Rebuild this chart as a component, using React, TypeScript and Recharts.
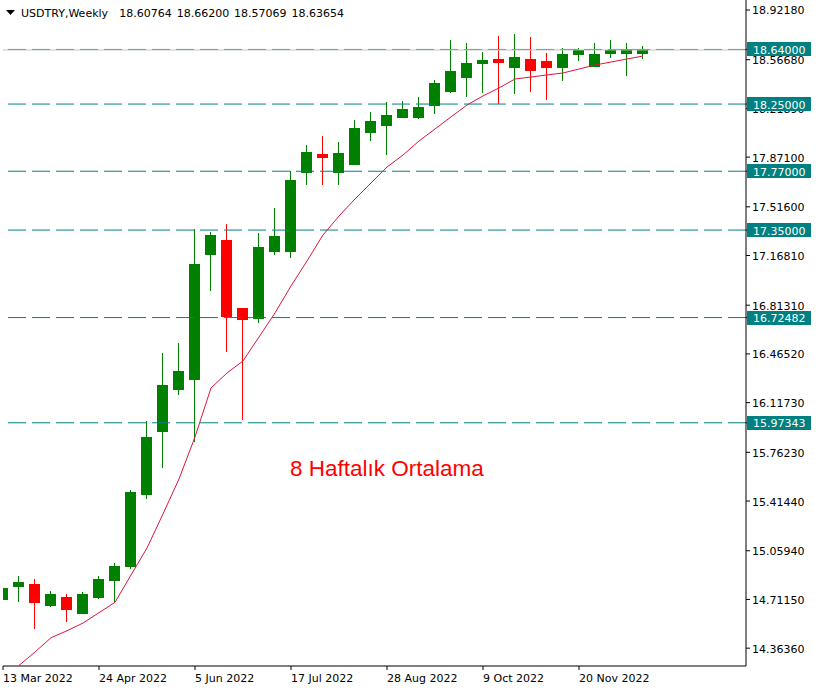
import React from "react";
import { ComposedChart, Bar, Line, XAxis, YAxis, ReferenceLine } from "recharts";

// weekly candles, USDTRY
const weeks = [
  "13 Mar 2022", "20 Mar 2022", "27 Mar 2022", "3 Apr 2022", "10 Apr 2022", "17 Apr 2022",
  "24 Apr 2022", "1 May 2022", "8 May 2022", "15 May 2022", "22 May 2022", "29 May 2022",
  "5 Jun 2022", "12 Jun 2022", "19 Jun 2022", "26 Jun 2022", "3 Jul 2022", "10 Jul 2022",
  "17 Jul 2022", "24 Jul 2022", "31 Jul 2022", "7 Aug 2022", "14 Aug 2022", "21 Aug 2022",
  "28 Aug 2022", "4 Sep 2022", "11 Sep 2022", "18 Sep 2022", "25 Sep 2022", "2 Oct 2022",
  "9 Oct 2022", "16 Oct 2022", "23 Oct 2022", "30 Oct 2022", "6 Nov 2022", "13 Nov 2022",
  "20 Nov 2022", "27 Nov 2022", "4 Dec 2022", "11 Dec 2022", "18 Dec 2022",
];

const opens = [
  14.708, 14.802, 14.822, 14.667, 14.729, 14.610, 14.722, 14.845, 14.945, 15.460,
  15.910, 16.210, 16.279, 17.172, 17.279, 16.793, 16.717, 17.193, 17.195, 17.760,
  17.893, 17.760, 17.817, 18.045, 18.095, 18.152, 18.150, 18.236, 18.336, 18.436,
  18.536, 18.572, 18.508, 18.572, 18.558, 18.508, 18.600, 18.515, 18.608, 18.608,
  18.60764,
];
const highs = [
  14.900, 14.879, 14.860, 14.772, 14.750, 14.762, 14.879, 14.972, 15.493, 15.986,
  16.472, 16.543, 17.355, 17.336, 17.393, 16.795, 17.329, 17.508, 17.772, 17.957,
  18.022, 17.979, 18.136, 18.193, 18.265, 18.272, 18.300, 18.422, 18.708, 18.686,
  18.622, 18.736, 18.751, 18.729, 18.615, 18.651, 18.651, 18.686, 18.708, 18.686,
  18.662,
];
const lows = [
  14.350, 14.693, 14.503, 14.660, 14.552, 14.607, 14.717, 14.693, 14.927, 15.431,
  15.648, 16.174, 15.838, 16.917, 16.479, 15.993, 16.688, 17.172, 17.153, 17.672,
  17.672, 17.672, 17.815, 17.988, 17.888, 18.150, 18.143, 18.179, 18.329, 18.300,
  18.329, 18.250, 18.322, 18.336, 18.279, 18.415, 18.558, 18.513, 18.579, 18.450,
  18.57069,
];
const closes = [
  14.793, 14.836, 14.688, 14.750, 14.638, 14.750, 14.857, 14.950, 15.479, 15.870,
  16.243, 16.343, 17.107, 17.315, 16.727, 16.710, 17.229, 17.307, 17.707, 17.907,
  17.867, 17.900, 18.079, 18.129, 18.172, 18.215, 18.229, 18.400, 18.486, 18.543,
  18.565, 18.543, 18.586, 18.486, 18.508, 18.608, 18.636, 18.608, 18.636, 18.643,
  18.63654,
];
// 8 week moving average (first week is below the visible range)
const ma8 = [
  null, 14.240, 14.336, 14.438, 14.488, 14.543, 14.617, 14.691, 14.886, 15.079,
  15.322, 15.572, 15.872, 16.222, 16.329, 16.415, 16.586, 16.758, 16.951, 17.129,
  17.315, 17.450, 17.572, 17.686, 17.800, 17.886, 17.986, 18.072, 18.158, 18.243,
  18.308, 18.365, 18.429, 18.443, 18.458, 18.472, 18.500, 18.529, 18.550, 18.572,
  18.593,
];

const xTickLabels = ["13 Mar 2022", "24 Apr 2022", "5 Jun 2022", "17 Jul 2022", "28 Aug 2022", "9 Oct 2022", "20 Nov 2022"];
const yTicks = [
  18.9218, 18.5668, 18.2189, 17.871, 17.516, 17.1681, 16.8131, 16.4652, 16.1173,
  15.7623, 15.4144, 15.0594, 14.7115, 14.3636,
];
const levels = [18.64, 18.25, 17.77, 17.35, 16.72482, 15.97343];
const bid = 18.63654;
const header = ["18.60764", "18.66200", "18.57069", "18.63654"];

const GREEN = "#008000";
const RED = "#ff0000";
const TEAL = "#008080";
const FONT = "'DejaVu Sans', Tahoma, sans-serif";

const data = weeks.map((w, i) => ({
  idx: i,
  week: w,
  range: [lows[i], highs[i]],
  open: opens[i],
  high: highs[i],
  low: lows[i],
  close: closes[i],
  ma: ma8[i],
}));

function Candle(props: any) {
  const { x, y, width, height, payload } = props;
  if (x == null || !payload) return null;
  const top = Math.min(y, y + height);
  const h = Math.abs(height);
  const { open, close, high, low } = payload;
  const py = (v: number) => top + ((high - v) / (high - low)) * h;
  const color = close >= open ? GREEN : RED;
  const cx = x + width / 2;
  const b1 = Math.round(py(Math.max(open, close)));
  const b2 = Math.round(py(Math.min(open, close)));
  const wTop = Math.round(top);
  const wBot = Math.round(top + h);
  return (
    <g>
      <rect x={Math.round(cx - 0.5)} y={wTop} width={1} height={Math.max(1, wBot - wTop)} fill={color} />
      <rect x={Math.round(x)} y={b1} width={Math.round(width)} height={Math.max(1, b2 - b1)} fill={color} />
    </g>
  );
}

// price ticks; the level values come last so their teal tags cover the plain labels
function PriceTick(props: any) {
  const { x, y, payload } = props;
  const v = Number(payload.value);
  const label = v.toFixed(5);
  if (levels.includes(v)) {
    return (
      <g>
        <rect x={x - 5} y={Math.round(y) - 7} width={64} height={14} fill={TEAL} />
        <text x={x + 1} y={y + 4.5} textAnchor="start" fontSize={11} fontFamily={FONT} fill="#ffffff">
          {label}
        </text>
      </g>
    );
  }
  return (
    <text x={x} y={y + 4.5} textAnchor="start" fontSize={11} fontFamily={FONT} fill="#000">
      {label}
    </text>
  );
}

function DateTick(props: any) {
  const { x, y, payload } = props;
  return (
    <text x={x} y={y + 10} textAnchor="start" fontSize={11} fontFamily={FONT} fill="#000">
      {weeks[payload.value]}
    </text>
  );
}

export default function App() {
  const xTicks = xTickLabels.map((l) => weeks.indexOf(l));
  return (
    <div style={{ position: "absolute", left: 0, top: 0, width: 817, height: 690, background: "#fff" }}>
      <ComposedChart width={817} height={690} data={data} margin={{ top: 0, right: 0, bottom: 0, left: 3 }}>
        <XAxis
          dataKey="idx"
          type="number"
          domain={[0, 46.4375]}
          allowDataOverflow
          ticks={xTicks}
          interval={0}
          height={24}
          tickSize={4}
          tickMargin={2}
          stroke="#000"
          tickLine={{ stroke: "#000" }}
          axisLine={{ stroke: "#000" }}
          tick={<DateTick />}
        />
        <YAxis
          orientation="right"
          type="number"
          domain={[14.2361, 18.9932]}
          allowDataOverflow
          ticks={[...yTicks, ...levels]}
          interval={0}
          width={71}
          tickSize={4}
          tickMargin={2}
          stroke="#000"
          tickLine={{ stroke: "#000" }}
          axisLine={{ stroke: "#000" }}
          tick={<PriceTick />}
        />
        <Bar dataKey="range" barSize={11} shape={<Candle />} isAnimationActive={false} />
        <Line
          type="linear"
          dataKey="ma"
          stroke="#dc143c"
          strokeWidth={1}
          dot={false}
          activeDot={false}
          connectNulls={false}
          isAnimationActive={false}
        />
        {levels.map((lv) => (
          <ReferenceLine key={lv} y={lv} stroke={TEAL} strokeWidth={1} strokeDasharray="18 6" />
        ))}
        <ReferenceLine y={bid} stroke="#c0c0c0" strokeWidth={1} />
      </ComposedChart>
      <svg
        width={817}
        height={690}
        style={{ position: "absolute", left: 0, top: 0, pointerEvents: "none" }}
      >
        <polygon points="6,10 15,10 10.5,15" fill="#000" />
        <text x={21} y={17} fontSize={11} fontFamily={FONT} fill="#000">
          USDTRY,Weekly
        </text>
        {header.map((h, k) => (
          <text key={h} x={119.3 + 57.4 * k} y={17} fontSize={11} fontFamily={FONT} fill="#000">
            {h}
          </text>
        ))}
        <text x={290} y={476} fontSize={22.5} fontFamily="'Liberation Sans', Arial, sans-serif" fill={RED}>
          8 Haftalık Ortalama
        </text>
      </svg>
    </div>
  );
}
